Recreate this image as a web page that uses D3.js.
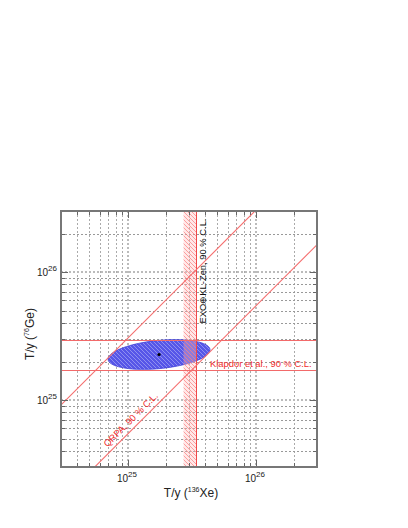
<!DOCTYPE html>
<html>
<head>
<meta charset="utf-8">
<script src="https://cdnjs.cloudflare.com/ajax/libs/d3/7.8.5/d3.min.js"></script>
<style>
  body { margin: 0; background: #fff; }
  text { font-family: "Liberation Sans", Arial, sans-serif; }
</style>
</head>
<body>
<div id="chart"></div>
<script>
// data
var xDomain = [3e24, 3e26]            // T/y (136Xe)
var yDomain = [3e24, 3e26]            // T/y (76Ge)
var majorTicks = [1e25, 1e26]
var majorExp = ['25', '26']
var klapdorGe = [1.73e25, 2.97e25]    // Klapdor et al. 90% C.L.
var exoXe = [2.72e25, 3.42e25]        // EXO+KL-Zen 90% C.L.
var qrpaRatio = [0.545, 3.05]         // T(Ge)/T(Xe), QRPA 90% C.L.
var bestFit = [1.75e25, 2.27e25]
var ellipseAxes = [0.40, 0.11]        // semi-axes in decades
var ellipseTilt = 5.6                 // degrees

var W = 408, H = 528
var pL = 61, pR = 317, pT = 211, pB = 467
var red = '#f26a6a'

var svg = d3.select('#chart').append('svg')
  .attr('width', W).attr('height', H)

var x = d3.scaleLog().domain(xDomain).range([pL, pR])
var y = d3.scaleLog().domain(yDomain).range([pB, pT])

var defs = svg.append('defs')
defs.append('clipPath').attr('id', 'plotclip')
  .append('rect').attr('x', pL).attr('y', pT)
  .attr('width', pR - pL).attr('height', pB - pT)

function hatch(id, bg, fg) {
  var p = defs.append('pattern').attr('id', id)
    .attr('patternUnits', 'userSpaceOnUse').attr('width', 4).attr('height', 4)
  p.append('rect').attr('width', 4).attr('height', 4).attr('fill', bg)
  p.append('path').attr('d', 'M0,0L4,4M-1,3L1,5M3,-1L5,1')
    .attr('stroke', fg).attr('stroke-width', 1)
}
hatch('blueHatch', '#5656e8', '#8f8ff0')
hatch('redHatch', 'rgba(255,190,190,0.35)', 'rgba(250,110,110,0.6)')

// grid
var xMinor = x.ticks().filter(function(d) { return d > xDomain[0] && d < xDomain[1] && majorTicks.indexOf(d) < 0 })
var yMinor = y.ticks().filter(function(d) { return d > yDomain[0] && d < yDomain[1] && majorTicks.indexOf(d) < 0 })

var grid = svg.append('g')
grid.selectAll('.vx').data(xMinor).enter().append('line')
  .attr('x1', function(d) { return Math.round(x(d)) + 0.5 })
  .attr('x2', function(d) { return Math.round(x(d)) + 0.5 })
  .attr('y1', pT).attr('y2', pB)
  .attr('stroke', '#aaa').attr('stroke-dasharray', '2,2')
grid.selectAll('.hy').data(yMinor).enter().append('line')
  .attr('y1', function(d) { return Math.round(y(d)) + 0.5 })
  .attr('y2', function(d) { return Math.round(y(d)) + 0.5 })
  .attr('x1', pL).attr('x2', pR)
  .attr('stroke', '#999').attr('stroke-dasharray', '2,2')
grid.selectAll('.vmaj').data(majorTicks).enter().append('line')
  .attr('x1', function(d) { return Math.round(x(d)) })
  .attr('x2', function(d) { return Math.round(x(d)) })
  .attr('y1', pT).attr('y2', pB)
  .attr('stroke', '#bbb').attr('stroke-width', 2).attr('stroke-dasharray', '2,2')
grid.selectAll('.hmaj').data(majorTicks).enter().append('line')
  .attr('y1', function(d) { return Math.round(y(d)) })
  .attr('y2', function(d) { return Math.round(y(d)) })
  .attr('x1', pL).attr('x2', pR)
  .attr('stroke', '#bbb').attr('stroke-width', 2).attr('stroke-dasharray', '2,2')

var plot = svg.append('g').attr('clip-path', 'url(#plotclip)')

// ellipse
var pts = d3.range(0, 361, 4).map(function(a) {
  var t = a * Math.PI / 180, r = ellipseTilt * Math.PI / 180
  var u = ellipseAxes[0] * Math.cos(t), v = ellipseAxes[1] * Math.sin(t)
  var lx = Math.log10(bestFit[0]) + u * Math.cos(r) - v * Math.sin(r)
  var ly = Math.log10(bestFit[1]) + u * Math.sin(r) + v * Math.cos(r)
  return [x(Math.pow(10, lx)), y(Math.pow(10, ly))]
})
plot.append('path').attr('d', d3.line().curve(d3.curveLinearClosed)(pts))
  .attr('fill', 'url(#blueHatch)').attr('stroke', '#4040d8').attr('stroke-width', 0.8)

plot.append('circle').attr('cx', x(bestFit[0])).attr('cy', y(bestFit[1]))
  .attr('r', 1.6).attr('fill', '#000')

// EXO band
plot.append('rect')
  .attr('x', x(exoXe[0])).attr('width', x(exoXe[1]) - x(exoXe[0]))
  .attr('y', pT).attr('height', pB - pT)
  .attr('fill', 'url(#redHatch)')
plot.append('line')
  .attr('x1', Math.round(x(exoXe[1])) + 0.5).attr('x2', Math.round(x(exoXe[1])) + 0.5)
  .attr('y1', pT).attr('y2', pB)
  .attr('stroke', '#f04848').attr('stroke-width', 1)

// Klapdor lines
plot.selectAll('.kl').data(klapdorGe).enter().append('line')
  .attr('y1', function(d) { return Math.round(y(d)) + 0.5 })
  .attr('y2', function(d) { return Math.round(y(d)) + 0.5 })
  .attr('x1', pL).attr('x2', pR)
  .attr('stroke', red).attr('stroke-width', 1)

// QRPA lines
plot.selectAll('.qr').data(qrpaRatio).enter().append('line')
  .attr('x1', x(xDomain[0] / 10)).attr('x2', x(xDomain[1] * 10))
  .attr('y1', function(d) { return y(xDomain[0] / 10 * d) })
  .attr('y2', function(d) { return y(xDomain[1] * 10 * d) })
  .attr('stroke', '#f56e6e').attr('stroke-width', 1.1)

// ticks on four sides
var allX = xMinor.concat(majorTicks), allY = yMinor.concat(majorTicks)
var tk = svg.append('g').attr('stroke', '#666').attr('stroke-width', 1)
function tlen(d) { return majorTicks.indexOf(d) >= 0 ? 7 : 4 }
allX.forEach(function(d) {
  var px = Math.round(x(d)) + 0.5
  tk.append('line').attr('x1', px).attr('x2', px).attr('y1', pB).attr('y2', pB - tlen(d))
  tk.append('line').attr('x1', px).attr('x2', px).attr('y1', pT).attr('y2', pT + tlen(d))
})
allY.forEach(function(d) {
  var py = Math.round(y(d)) + 0.5
  tk.append('line').attr('y1', py).attr('y2', py).attr('x1', pL).attr('x2', pL + tlen(d))
  tk.append('line').attr('y1', py).attr('y2', py).attr('x1', pR).attr('x2', pR - tlen(d))
})

// frame
svg.append('rect').attr('x', pL).attr('y', pT)
  .attr('width', pR - pL).attr('height', pB - pT)
  .attr('fill', 'none').attr('stroke', '#777').attr('stroke-width', 2)

// tick labels
majorTicks.forEach(function(d, i) {
  var t = svg.append('text').attr('x', x(d) - 1).attr('y', 482)
    .attr('text-anchor', 'middle').attr('font-size', 10).attr('fill', '#222')
  t.append('tspan').text('10')
  t.append('tspan').attr('dy', -5).attr('font-size', 8).text(majorExp[i])
  var s = svg.append('text').attr('x', 57).attr('y', y(d) + 4)
    .attr('text-anchor', 'end').attr('font-size', 10).attr('fill', '#222')
  s.append('tspan').text('10')
  s.append('tspan').attr('dy', -5).attr('font-size', 8).text(majorExp[i])
})

// axis titles
var xt = svg.append('text').attr('x', 191).attr('y', 497)
  .attr('text-anchor', 'middle').attr('font-size', 12).attr('fill', '#222')
xt.append('tspan').text('T/y (')
xt.append('tspan').attr('dy', -5).attr('font-size', 7).text('136')
xt.append('tspan').attr('dy', 5).text('Xe)')

var yt = svg.append('text').attr('transform', 'translate(34,334) rotate(-90)')
  .attr('text-anchor', 'middle').attr('font-size', 12).attr('fill', '#222')
yt.append('tspan').text('T/y (')
yt.append('tspan').attr('dy', -5).attr('font-size', 7).text('76')
yt.append('tspan').attr('dy', 5).text('Ge)')

// annotations
svg.append('text').attr('transform', 'translate(205.5,271) rotate(-90)')
  .attr('text-anchor', 'middle').attr('font-size', 9.4).attr('fill', '#111')
  .text('EXO\u2295KL-Zen, 90 % C.L.')

svg.append('text').attr('x', 210).attr('y', 367)
  .attr('font-size', 9.4).attr('fill', '#f02c2c')
  .text('Klapdor et al., 90 % C.L.')

svg.append('text').attr('transform', 'translate(133,422) rotate(-45)')
  .attr('text-anchor', 'middle').attr('font-size', 9.4).attr('fill', '#f02c2c')
  .text('QRPA, 90 % C.L.')
</script>
</body>
</html>
